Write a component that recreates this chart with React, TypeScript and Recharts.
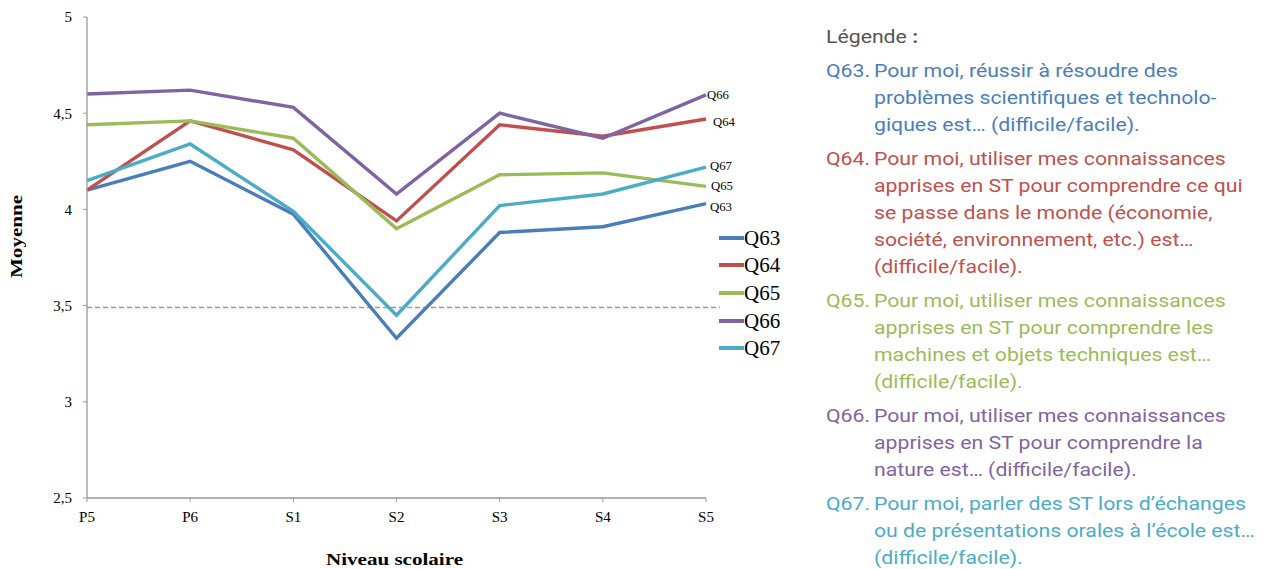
import React from 'react';
import { LineChart, Line, XAxis, YAxis, ReferenceLine, Legend, LabelList, Label } from 'recharts';

const levels = ['P5', 'P6', 'S1', 'S2', 'S3', 'S4', 'S5'];
const q63 = [4.10, 4.25, 3.975, 3.33, 3.88, 3.91, 4.03];
const q64 = [4.10, 4.46, 4.31, 3.94, 4.44, 4.38, 4.47];
const q65 = [4.44, 4.46, 4.37, 3.90, 4.18, 4.19, 4.12];
const q66 = [4.60, 4.62, 4.53, 4.08, 4.50, 4.37, 4.595];
const q67 = [4.15, 4.34, 3.99, 3.45, 4.02, 4.08, 4.22];
const yTicks = [2.5, 3, 3.5, 4, 4.5, 5];
const threshold = 3.49;

const seriesNames = ['Q63', 'Q64', 'Q65', 'Q66', 'Q67'];
const seriesValues = [q63, q64, q65, q66, q67];
const colors: Record<string, string> = {
  Q63: '#4A7EBB',
  Q64: '#C0504D',
  Q65: '#9BBB59',
  Q66: '#8064A2',
  Q67: '#4BACC6',
};
const endLabelOffset: Record<string, [number, number]> = {
  Q63: [4, 3],
  Q64: [7, 3],
  Q65: [5, 0],
  Q66: [1, 0],
  Q67: [4, -1],
};

const descriptions: { id: string; lines: string[] }[] = [
  { id: 'Q63', lines: ['Pour moi, réussir à résoudre des', 'problèmes scientifiques et technolo-', 'giques est… (difficile/facile).'] },
  { id: 'Q64', lines: ['Pour moi, utiliser mes connaissances', 'apprises en ST pour comprendre ce qui', 'se passe dans le monde (économie,', 'société, environnement, etc.) est…', '(difficile/facile).'] },
  { id: 'Q65', lines: ['Pour moi, utiliser mes connaissances', 'apprises en ST pour comprendre les', 'machines et objets techniques est…', '(difficile/facile).'] },
  { id: 'Q66', lines: ['Pour moi, utiliser mes connaissances', 'apprises en ST pour comprendre la', 'nature est… (difficile/facile).'] },
  { id: 'Q67', lines: ['Pour moi, parler des ST lors d’échanges', 'ou de présentations orales à l’école est…', '(difficile/facile).'] },
];

const data = levels.map((lv, i) => {
  const row: Record<string, string | number> = { level: lv };
  seriesNames.forEach((n, k) => {
    row[n] = seriesValues[k][i];
  });
  return row;
});

const serif = '"Liberation Serif", "Times New Roman", serif';

const makeEndLabel = (name: string) => (props: any) => {
  const { x, y, index } = props;
  if (index !== levels.length - 1) return null;
  const [dx, dy] = endLabelOffset[name];
  return (
    <text x={x + dx} y={y + dy} dominantBaseline="central" fontFamily={serif} fontSize={12} textLength={22} lengthAdjust="spacingAndGlyphs" fill="#000">
      {name}
    </text>
  );
};

const LegendContent = () => (
  <div style={{ fontFamily: serif }}>
    {seriesNames.map((n) => (
      <div key={n} style={{ display: 'flex', alignItems: 'center', height: 27.6 }}>
        <div style={{ width: 25, height: 4, background: colors[n], marginRight: 0 }} />
        <span style={{ fontSize: 21, color: '#000', lineHeight: '22px' }}>{n}</span>
      </div>
    ))}
  </div>
);

const DashShape = (props: any) => {
  const { x1, y1, x2, y2 } = props;
  return <line x1={x1} y1={y1} x2={x2 + 14} y2={y2} stroke="#999" strokeWidth={1.3} strokeDasharray="5 3" />;
};

const XTitle = (props: any) => {
  const { viewBox } = props;
  const cx = viewBox.x + viewBox.width / 2 - 2;
  return (
    <text x={cx} y={viewBox.y + viewBox.height - 4} textAnchor="middle" fontFamily={serif} fontSize={17} fontWeight="bold" fill="#000" textLength={137} lengthAdjust="spacingAndGlyphs">
      Niveau scolaire
    </text>
  );
};

const YTitle = (props: any) => {
  const { viewBox } = props;
  const cx = 22;
  const cy = viewBox.y + viewBox.height / 2 - 21;
  return (
    <text x={cx} y={cy} transform={`rotate(-90, ${cx}, ${cy})`} textAnchor="middle" fontFamily={serif} fontSize={17} fontWeight="bold" fill="#000" textLength={83} lengthAdjust="spacingAndGlyphs">
      Moyenne
    </text>
  );
};

const SCALE = 1.18;

export default function App() {
  return (
    <div style={{ position: 'absolute', left: 0, top: 0, width: 1265, height: 569, background: '#fff' }}>
      <div style={{ position: 'absolute', left: 0, top: 0 }}>
        <LineChart width={800} height={569} data={data} margin={{ top: 17, right: 94, bottom: 0, left: 0 }}>
          <XAxis
            dataKey="level"
            height={71}
            tick={{ fontFamily: serif, fontSize: 15, fill: '#000' }}
            tickSize={4}
            tickMargin={9}
            stroke="#999"
            axisLine={{ stroke: '#999', strokeWidth: 1.3 }}
          >
            <Label content={XTitle} />
          </XAxis>
          <YAxis
            width={87}
            domain={[2.5, 5]}
            ticks={yTicks}
            tickFormatter={(v: number) => String(v).replace('.', ',')}
            tick={{ fontFamily: serif, fontSize: 15, fill: '#000' }}
            tickSize={4}
            tickMargin={11}
            stroke="#999"
            axisLine={{ stroke: '#999', strokeWidth: 1.3 }}
            allowDataOverflow
          >
            <Label content={YTitle} />
          </YAxis>
          <ReferenceLine y={threshold} shape={DashShape} ifOverflow="visible" />
          {seriesNames.map((n) => (
            <Line
              key={n}
              type="linear"
              dataKey={n}
              stroke={colors[n]}
              strokeWidth={3.4}
              dot={false}
              activeDot={false}
              isAnimationActive={false}
            >
              <LabelList dataKey={n} content={makeEndLabel(n)} />
            </Line>
          ))}
          <Legend
            layout="vertical"
            align="center"
            verticalAlign="middle"
            content={LegendContent}
            wrapperStyle={{ position: 'absolute', left: 719, top: 224, width: 80 }}
          />
        </LineChart>
      </div>
      <div
        style={{
          position: 'absolute',
          left: 826,
          top: 23,
          width: 380,
          fontFamily: 'Roboto, "Noto Sans", sans-serif',
          fontSize: 18,
          lineHeight: '27px',
          transform: `scaleX(${SCALE})`,
          transformOrigin: 'left top',
        }}
      >
        <div style={{ color: '#555', marginBottom: 7 }}>
          Légende <span style={{ fontWeight: 'bold' }}>:</span>
        </div>
        {descriptions.map((d) => (
          <div key={d.id} style={{ display: 'flex', color: colors[d.id], marginBottom: 7 }}>
            <div style={{ width: 48 / SCALE, flexShrink: 0 }}>{d.id}.</div>
            <div>
              {d.lines.map((l, i) => (
                <div key={i} style={{ whiteSpace: 'nowrap' }}>{l}</div>
              ))}
            </div>
          </div>
        ))}
      </div>
    </div>
  );
}
